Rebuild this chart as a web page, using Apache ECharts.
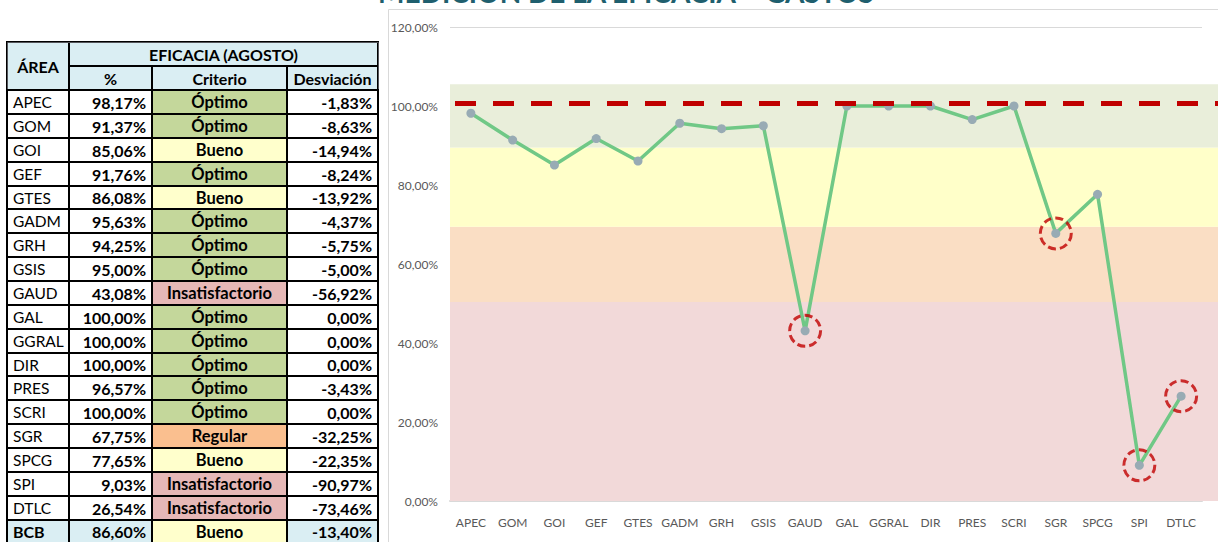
<!DOCTYPE html>
<html><head><meta charset="utf-8">
<script src="https://cdn.jsdelivr.net/npm/echarts@6/dist/echarts.min.js"></script>
<style>html,body{margin:0;padding:0;background:#fff;overflow:hidden;} #c{width:1218px;height:542px;}</style>
</head><body><div id="c"></div>
<script>
const areas = ['APEC','GOM','GOI','GEF','GTES','GADM','GRH','GSIS','GAUD','GAL','GGRAL','DIR','PRES','SCRI','SGR','SPCG','SPI','DTLC'];
const eficacia = [98.17,91.37,85.06,91.76,86.08,95.63,94.25,95.00,43.08,100.00,100.00,100.00,96.57,100.00,67.75,77.65,9.03,26.54];
const criterio = ['Óptimo','Óptimo','Bueno','Óptimo','Bueno','Óptimo','Óptimo','Óptimo','Insatisfactorio','Óptimo','Óptimo','Óptimo','Óptimo','Óptimo','Regular','Bueno','Insatisfactorio','Insatisfactorio'];
const desviacion = [-1.83,-8.63,-14.94,-8.24,-13.92,-4.37,-5.75,-5.00,-56.92,0.00,0.00,0.00,-3.43,0.00,-32.25,-22.35,-90.97,-73.46];
const totalArea = 'BCB';
const totalEficacia = 86.60;
const totalCriterio = 'Bueno';
const totalDesviacion = -13.40;
const flagged = ['GAUD','SGR','SPI','DTLC'];
const bandEdges = [0, 50.4, 69.4, 89.5, 105.5];
const metaLine = 100.75;
const yTicks = [0,20,40,60,80,100,120];
const tableHeader = ['ÁREA','EFICACIA (AGOSTO)','%','Criterio','Desviación'];
const titleText = 'MEDICIÓN DE LA EFICACIA – GASTOS';

const FONT = 'Lato, "Liberation Sans", sans-serif';
const pct = v => v.toFixed(2).replace('.', ',') + '%';
const critColor = {'Óptimo':'#C4D79B','Bueno':'#FFFFCC','Regular':'#FABF8F','Insatisfactorio':'#E6B8B7'};
const bandColors = ['#F2D9D9','#FADEC4','#FFFFC9','#E9EEDA'];
const headBlue = '#DAEEF3';

// table rows
const rowsArea = areas.concat([totalArea]);
const rowsEf = eficacia.concat([totalEficacia]);
const rowsCr = criterio.concat([totalCriterio]);
const rowsDv = desviacion.concat([totalDesviacion]);
const lastRow = rowsArea.length - 1;
const body = [];
const leftLbl = {position:'insideLeft', distance:3, overflow:'none'};
const rightLbl = {position:'insideRight', distance:3, overflow:'none'};
rowsArea.forEach((a, r) => {
  const tot = r === lastRow;
  body.push({coord:[0,r], value:a, label:Object.assign({fontWeight: tot?'bold':'normal', fontSize: tot?16:15.5}, leftLbl), itemStyle:{color: tot?headBlue:'#fff'}});
  body.push({coord:[1,r], value:pct(rowsEf[r]), label:Object.assign({fontWeight:'bold'}, rightLbl), itemStyle:{color: tot?headBlue:'#fff'}});
  body.push({coord:[2,r], value:rowsCr[r], label:{fontWeight:'bold', fontSize:16.5, overflow:'none'}, itemStyle:{color: critColor[rowsCr[r]]}});
  body.push({coord:[3,r], value:pct(rowsDv[r]), label:Object.assign({fontWeight:'bold'}, rightLbl), itemStyle:{color: tot?headBlue:'#fff'}});
});

const flaggedData = areas.map((a,i) => flagged.includes(a) ? eficacia[i] : '-');

const chart = echarts.init(document.getElementById('c'), null, {renderer:'svg'});
chart.setOption({
  animation: false,
  textStyle: {fontFamily: FONT},
  title: {
    text: titleText, left: 621, top: -27, textAlign: 'center',
    textStyle: {fontFamily: FONT, fontWeight: 'bold', fontSize: 28, color: '#1F5F6E'}
  },
  graphic: [{type:'rect', shape:{x:388.5, y:9.5, width:900, height:600}, style:{fill:'none', stroke:'#D9D9D9', lineWidth:1}, z:-20}],
  matrix: {
    left: 7, top: 42, width: 371, height: 2*24 + 19*23.85,
    x: {
      data: [
        {value: tableHeader[0], size: 62},
        {value: tableHeader[1], children: [{value: tableHeader[2], size: 83}, {value: tableHeader[3], size: 135}, {value: tableHeader[4], size: 91}]}
      ],
      levelSize: 24,
      label: {fontFamily: FONT, fontWeight: 'bold', fontSize: 16, color: '#000', overflow:'none'},
      itemStyle: {color: headBlue, borderColor: '#000', borderWidth: 2}
    },
    y: {show: false, data: rowsArea.map((a,i)=>String(i))},
    body: {
      data: body,
      label: {fontFamily: FONT, fontSize: 16, color: '#000'},
      itemStyle: {borderColor: '#000', borderWidth: 2}
    }
  },
  grid: [
    {left: 450, right: 16, top: 27, bottom: 41},
    {left: 450, right: 0, top: 27, bottom: 41}
  ],
  xAxis: [
    {type:'category', gridIndex:0, data: areas, boundaryGap: true,
     axisLine:{lineStyle:{color:'#D9D9D9', width:2}}, axisTick:{show:false},
     axisLabel:{color:'#595959', fontSize:12, fontFamily: FONT, margin: 15, interval: 0}},
    {type:'value', gridIndex:1, min:0, max:1, show:false}
  ],
  yAxis: [
    {type:'value', gridIndex:0, min: yTicks[0], max: yTicks[yTicks.length-1], interval: 20,
     axisLine:{show:false}, axisTick:{show:false},
     axisLabel:{color:'#595959', fontSize:12, fontFamily: FONT, margin: 12, formatter: v => pct(v)},
     splitLine:{lineStyle:{color:'#D9D9D9', width:1}}},
    {type:'value', gridIndex:1, min: yTicks[0], max: yTicks[yTicks.length-1], show:false}
  ],
  series: [
    {type:'line', xAxisIndex:1, yAxisIndex:1, data:[[0,0],[1,0]], symbol:'none', lineStyle:{opacity:0}, silent:true, z:-10,
     markArea:{silent:true, data: bandColors.map((c,i)=>[{yAxis: bandEdges[i], itemStyle:{color:c}}, {yAxis: bandEdges[i+1]}])}},
    {type:'line', xAxisIndex:1, yAxisIndex:1, data:[[0,0],[1,0]], symbol:'none', lineStyle:{opacity:0}, silent:true, z:3,
     markLine:{silent:true, symbol:'none', label:{show:false},
       lineStyle:{color:'#C00000', width:5, type:[21,17], dashOffset:33},
       data:[{yAxis: metaLine}]}},
    {type:'line', xAxisIndex:0, yAxisIndex:0, data: eficacia, z:4,
     lineStyle:{color:'#70C886', width:3.5},
     symbol:'circle', symbolSize:9, showAllSymbol:true,
     itemStyle:{color:'#98ABB4', borderWidth:0}},
    {type:'scatter', xAxisIndex:0, yAxisIndex:0, data: flaggedData, z:5,
     symbol:'circle', symbolSize:31,
     itemStyle:{color:'rgba(0,0,0,0)', borderColor:'#C00000', borderWidth:3, borderType:[8,4]}}
  ]
});
</script>
</body></html>
